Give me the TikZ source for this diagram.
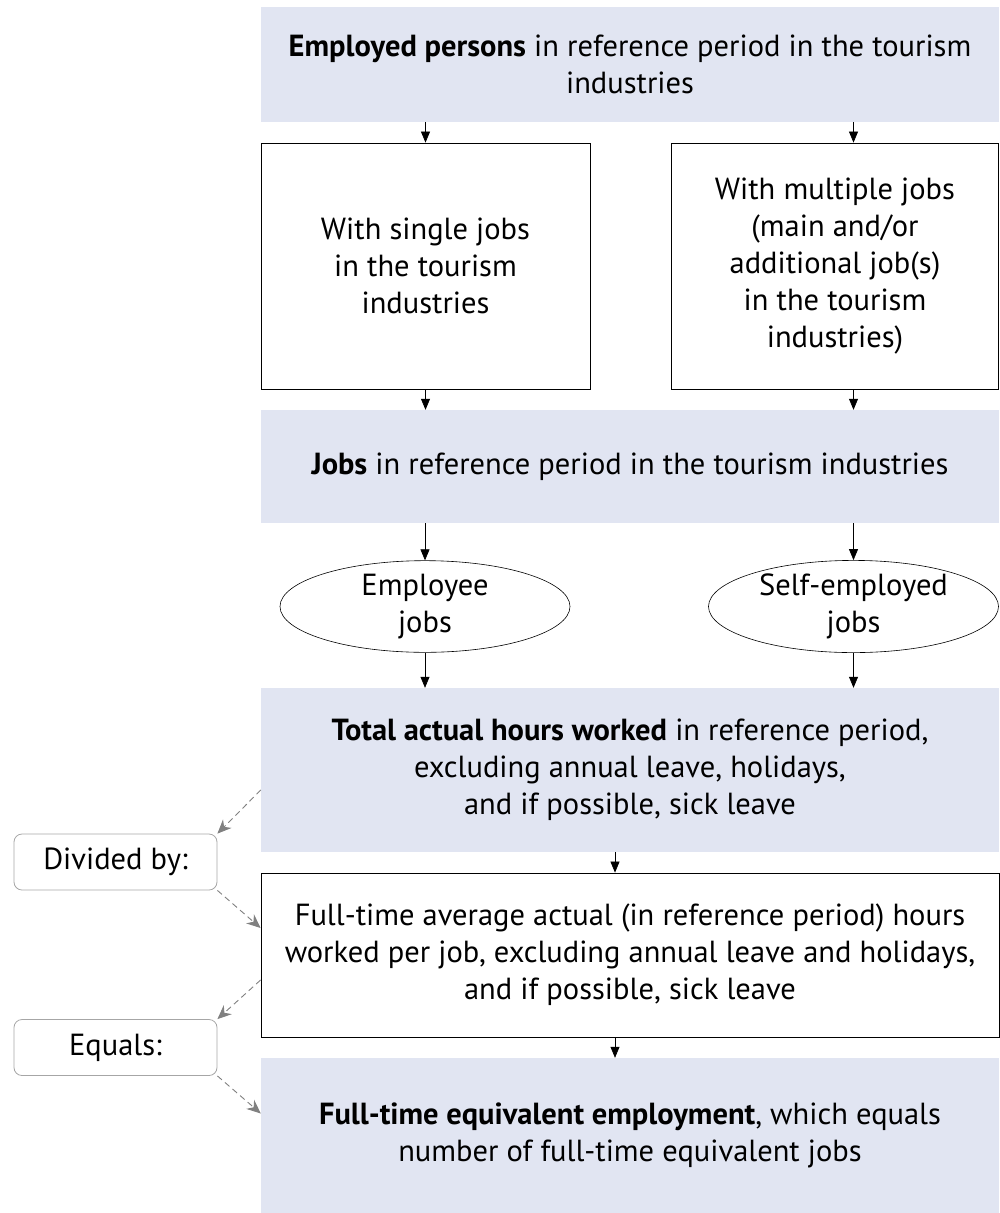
\documentclass[tikz,border=0pt]{standalone}
\usepackage{fontspec}
\setmainfont{PT Sans}
\usetikzlibrary{arrows.meta, positioning, shapes.geometric}
\definecolor{boxblue}{RGB}{225,229,242}
\definecolor{hintgray}{RGB}{128,128,128}

\begin{document}
\begin{tikzpicture}[x=1pt, y=-1pt, >={Triangle[length=11pt,width=9pt]},
    every node/.style={font=\fontsize{30.5}{37}\selectfont, align=center, inner sep=0pt}]
    \tikzset{
      shaded/.style={fill=boxblue, minimum width=738pt},
      framed/.style={draw, line width=0.8pt},
      oval/.style={ellipse, draw, line width=0.6pt, minimum width=290pt, minimum height=83pt},
      note/.style={draw=black!35, line width=0.8pt, rounded corners=8pt, minimum width=203pt, minimum height=56pt},
      flow/.style={->, line width=0.7pt},
      hint/.style={->, hintgray, line width=0.9pt, dash pattern=on 6pt off 4pt,
        >={Stealth[length=14pt,width=12pt]}}
    }
    \useasboundingbox (0,0) rectangle (999,1213);
    % main column
    \node[shaded, minimum height=115pt] (persons) at (630,64.5)
      {\textbf{Employed persons} in reference period in the tourism\\industries};
    \node[framed, minimum width=329pt, minimum height=246pt] (single) at (425.5,266)
      {With single jobs\\in the tourism\\industries};
    \node[framed, minimum width=327pt, minimum height=246pt] (multi) at (835,266)
      {With multiple jobs\\(main and/or\\additional job(s)\\in the tourism\\industries)};
    \node[shaded, minimum height=113pt] (jobs) at (630,466.5)
      {\textbf{Jobs} in reference period in the tourism industries};
    \node[oval] (employee) at (425,606.5) {Employee\\jobs};
    \node[oval] (selfemp) at (853.5,606.5) {Self-employed\\jobs};
    \node[shaded, minimum height=164pt] (total) at (630,770)
      {\textbf{Total actual hours worked} in reference period,\\excluding annual leave, holidays,\\and if possible, sick leave};
    \node[framed, minimum width=738pt, minimum height=164pt] (fulltime) at (630,955)
      {Full-time average actual (in reference period) hours\\worked per job, excluding annual leave and holidays,\\and if possible, sick leave};
    \node[shaded, minimum height=155pt] (fte) at (630,1135.5)
      {\textbf{Full-time equivalent employment}, which equals\\number of full-time equivalent jobs};
    % side notes
    \node[note] (divby) at (115.5,862) {Divided by:};
    \node[note] (equals) at (115.5,1047.5) {Equals:};
    % arrows down the column
    \draw[flow] (persons.south -| single.north) -- (single.north);
    \draw[flow] (persons.south -| selfemp.north) -- (multi.north -| selfemp.north);
    \draw[flow] (single.south) -- (jobs.north -| single.south);
    \draw[flow] (multi.south -| selfemp.north) -- (jobs.north -| selfemp.north);
    \draw[flow] (jobs.south -| employee.north) -- (employee.north);
    \draw[flow] (jobs.south -| selfemp.north) -- (selfemp.north);
    \draw[flow] (employee.south) -- (total.north -| employee.south);
    \draw[flow] (selfemp.south) -- (total.north -| selfemp.south);
    \draw[flow] ([xshift=-15pt]total.south) -- ([xshift=-15pt]fulltime.north);
    \draw[flow] ([xshift=-15pt]fulltime.south) -- ([xshift=-15pt]fte.north);
    % dashed hints
    \draw[hint] ([yshift=-20pt]total.west) -- (divby.north east);
    \draw[hint] (divby.south east) -- ([yshift=27pt]fulltime.west);
    \draw[hint] ([yshift=-25pt]fulltime.west) -- (equals.north east);
    \draw[hint] (equals.south east) -- ([yshift=22pt]fte.west);
\end{tikzpicture}
\end{document}
